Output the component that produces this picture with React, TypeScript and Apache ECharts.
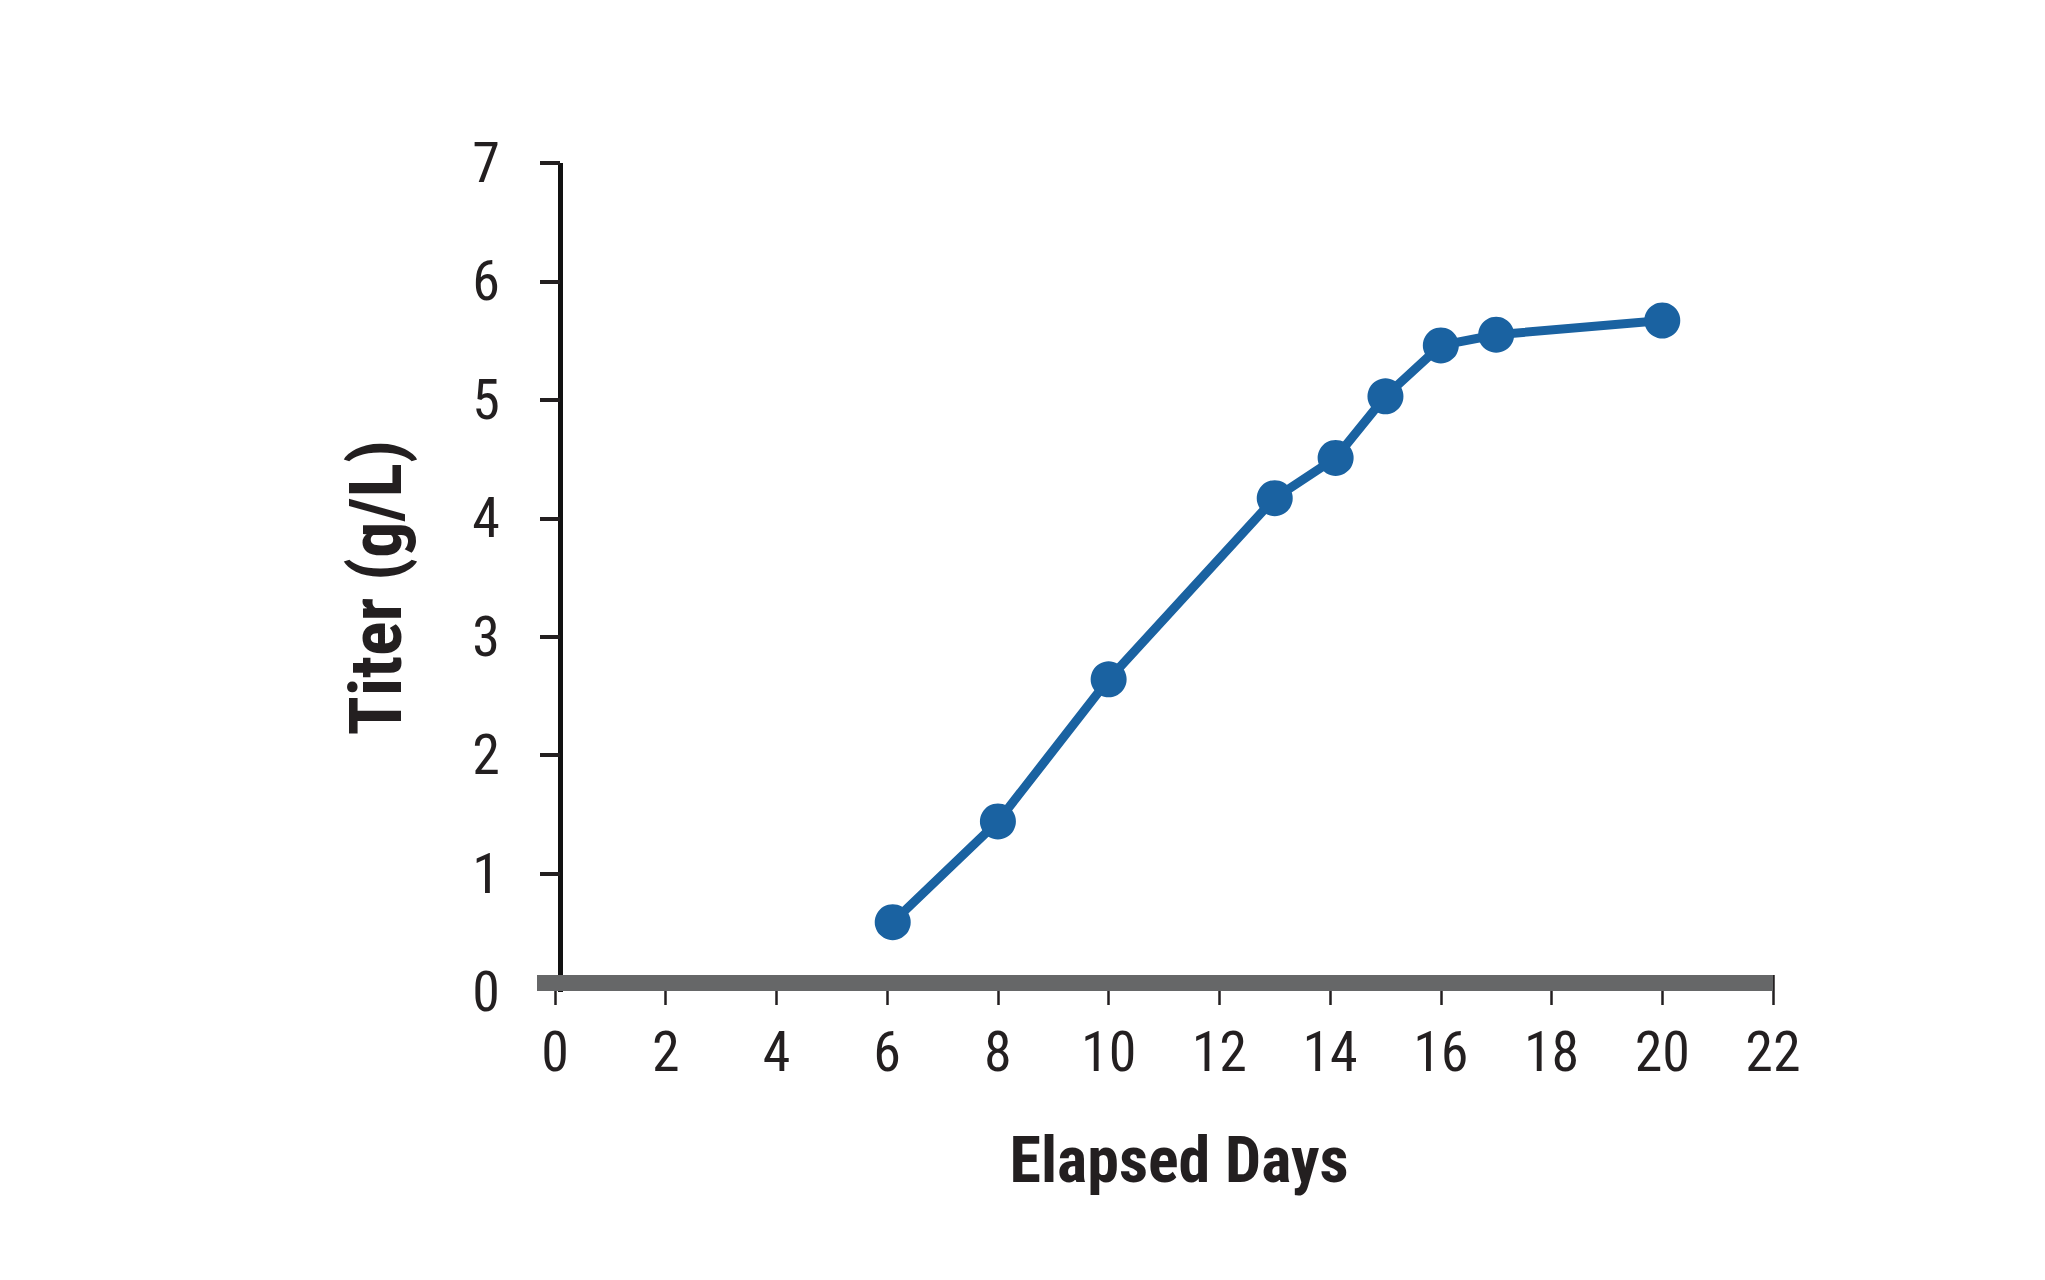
import React, { useEffect, useRef } from "react";
import * as echarts from "echarts";

const elapsedDays = [6.1, 8.0, 10.0, 13.0, 14.1, 15.0, 16.0, 17.0, 20.0];
const titerValues = [0.59, 1.44, 2.64, 4.17, 4.51, 5.03, 5.46, 5.55, 5.67];
const xTicks = [0, 2, 4, 6, 8, 10, 12, 14, 16, 18, 20, 22];
const yTicks = [0, 1, 2, 3, 4, 5, 6, 7];
const xTitle = "Elapsed Days";
const yTitle = "Titer (g/L)";

const FONT = "'Roboto Condensed', 'Liberation Sans Narrow', 'Arial Narrow', 'DejaVu Sans Condensed', Roboto, sans-serif";
const TEXT = "#231f20";
const BLUE = "#1a62a1";

export default function App() {
  const ref = useRef<HTMLDivElement>(null);
  useEffect(() => {
    document.body.style.margin = "0";
    const chart = echarts.init(ref.current!, null, { renderer: "svg" });
    const gridTop = 163;
    const gridBottom = 1280 - 992;
    chart.setOption({
      animation: false,
      backgroundColor: "#ffffff",
      grid: [
        { left: 555, right: 2045 - 1773, top: gridTop, bottom: gridBottom },
        { left: 537, right: 2045 - 1773, top: gridTop, bottom: gridBottom },
      ],
      xAxis: [
        {
          type: "value",
          gridIndex: 0,
          min: xTicks[0],
          max: xTicks[xTicks.length - 1],
          interval: 2,
          offset: -17,
          axisLine: { show: false },
          axisTick: { show: true, length: 30, lineStyle: { color: TEXT, width: 2.5 } },
          axisLabel: { margin: 49, fontSize: 56, color: TEXT, fontFamily: FONT },
          splitLine: { show: false },
          name: xTitle,
          nameLocation: "middle",
          nameGap: 153,
          nameTextStyle: { fontSize: 64, fontWeight: "bold", color: TEXT, fontFamily: FONT, padding: [0, 0, 0, 30] },
        },
        {
          type: "value",
          gridIndex: 1,
          min: 0,
          max: 1,
          offset: -9,
          z: 5,
          axisLine: { show: true, lineStyle: { color: "#666768", width: 16, cap: "butt" } },
          axisTick: { show: false },
          axisLabel: { show: false },
          splitLine: { show: false },
        },
      ],
      yAxis: [
        {
          type: "value",
          gridIndex: 0,
          min: yTicks[0],
          max: yTicks[yTicks.length - 1],
          interval: 1,
          offset: -5,
          axisLine: { show: true, lineStyle: { color: "#111111", width: 5, cap: "butt" } },
          axisTick: { show: true, length: 20, customValues: yTicks.slice(1), lineStyle: { color: TEXT, width: 4 } },
          axisLabel: { margin: 60, fontSize: 56, color: TEXT, fontFamily: FONT },
          splitLine: { show: false },
          name: yTitle,
          nameLocation: "middle",
          nameRotate: 90,
          nameGap: 148,
          nameTextStyle: { fontSize: 72, fontWeight: "bold", color: TEXT, fontFamily: FONT, padding: [0, 20, 0, 0] },
        },
        {
          type: "value",
          gridIndex: 1,
          show: false,
        },
      ],
      series: [
        {
          type: "line",
          xAxisIndex: 0,
          yAxisIndex: 0,
          data: elapsedDays.map((d, i) => [d, titerValues[i]]),
          symbol: "circle",
          symbolSize: 36,
          lineStyle: { color: BLUE, width: 9 },
          itemStyle: { color: BLUE },
          z: 3,
        },
      ],
    });
    return () => chart.dispose();
  }, []);
  return <div ref={ref} style={{ width: 2045, height: 1280 }} />;
}
